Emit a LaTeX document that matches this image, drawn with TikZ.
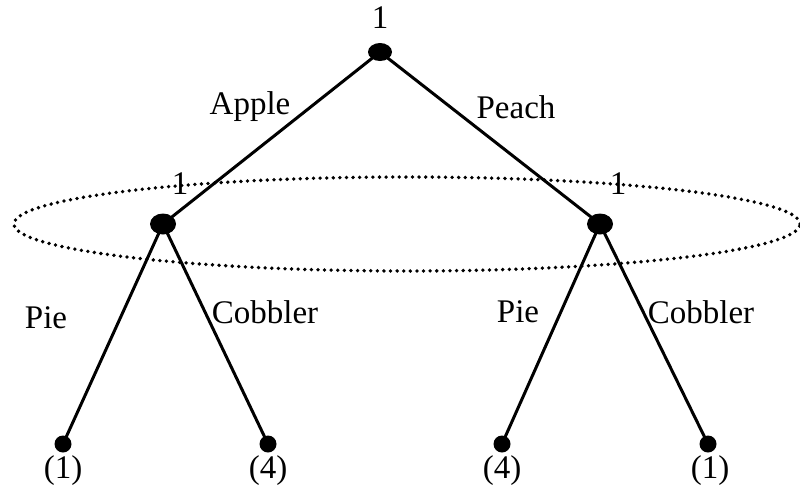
\documentclass[tikz,border=0pt]{standalone}
\usepackage{fontspec}
\setmainfont{Liberation Serif}
\usetikzlibrary{shapes.geometric}
\begin{document}
\begin{tikzpicture}[x=1pt,y=-1pt,
  every node/.style={font=\fontsize{33}{38}\selectfont},
  dec/.style={ellipse,fill=black,inner sep=0pt,minimum width=24pt,minimum height=18pt},
  leaf/.style={circle,fill=black,inner sep=0pt,minimum size=17pt},
  edge/.style={line width=3pt},
  lbl/.style={inner sep=0pt}]
\useasboundingbox (0,0) rectangle (800,491);
\node[dec] (r) at (380,52) {};
\node[dec,minimum width=26pt,minimum height=21pt] (a) at (163,224) {};
\node[dec,minimum width=26pt,minimum height=21pt] (p) at (600,224) {};
\node[leaf] (l1) at (63,444) {};
\node[leaf] (l2) at (268,444) {};
\node[leaf] (l3) at (502,444) {};
\node[leaf] (l4) at (708,444) {};
\draw[edge] (r.center) -- (a.center);
\draw[edge] (r.center) -- (p.center);
\draw[edge] (a.center) -- (l1.center);
\draw[edge] (a.center) -- (l2.center);
\draw[edge] (p.center) -- (l3.center);
\draw[edge] (p.center) -- (l4.center);
\node[draw,ellipse,line width=3.8pt,line cap=round,dash pattern=on 0pt off 6.6pt,minimum width=786pt,minimum height=94pt,inner sep=0pt] (info) at (407,224) {};
\node[lbl] (t0) at (380,18) {1};
\node[lbl] (t1) at (180,184) {1};
\node[lbl] (t2) at (618,184) {1};
\node[lbl] (ap) at (250,107) {Apple};
\node[lbl] (pe) at (516,107) {Peach};
\node[lbl] (pi1) at (46,318) {Pie};
\node[lbl] (co1) at (265,312) {Cobbler};
\node[lbl] (pi2) at (518,312) {Pie};
\node[lbl] (co2) at (701,312) {Cobbler};
\node[lbl] (v1) at (63,471) {(1)};
\node[lbl] (v2) at (268,471) {(4)};
\node[lbl] (v3) at (502,471) {(4)};
\node[lbl] (v4) at (710,471) {(1)};
\end{tikzpicture}
\end{document}
